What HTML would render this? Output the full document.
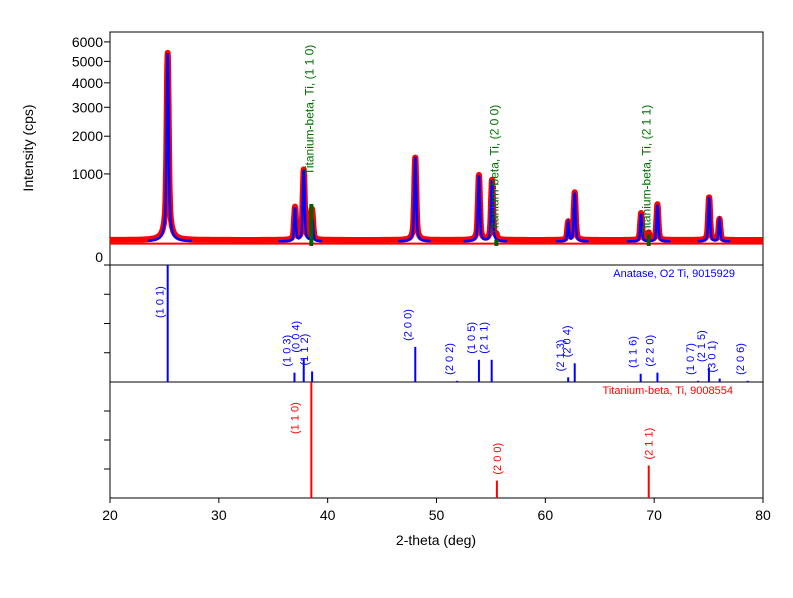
<!DOCTYPE html>
<html><head><meta charset="utf-8"><style>
body{margin:0;background:#fff;}
svg{font-family:"Liberation Sans",Arial,sans-serif;}
</style></head><body>
<svg id="chart" width="793" height="593" viewBox="0 0 793 593" xmlns="http://www.w3.org/2000/svg"></svg>
<script>
// ---- data ----
const anatasePos = [25.3, 37.0, 37.8, 38.6, 48.05, 53.9, 55.1, 62.1, 62.7, 68.8, 70.3, 75.05, 76.0];
const anataseInt = [5350, 330, 1020, 180, 1330, 900, 800, 150, 560, 250, 370, 480, 180];
const tiPos = [38.5, 55.5, 69.5];
const tiObsInt = [200, 30, 50];
const tiLabels = ["Titanium-beta, Ti, (1 1 0)", "Titanium-beta, Ti, (2 0 0)", "Titanium-beta, Ti, (2 1 1)"];
const background = 75;
const yTicks = [0, 1000, 2000, 3000, 4000, 5000, 6000];
const xTicks = [20, 30, 40, 50, 60, 70, 80];
const refAnatasePos = [25.3, 36.95, 37.8, 38.57, 48.05, 51.9, 53.9, 55.07, 62.1, 62.7, 68.76, 70.3, 74.03, 75.03, 76.02, 78.6];
const refAnataseInt = [100, 8, 20, 9, 30, 1, 19, 19, 4, 16, 7, 8, 1, 12, 3, 1];
const refAnataseLbl = ["(1 0 1)", "(1 0 3)", "(0 0 4)", "(1 1 2)", "(2 0 0)", "(2 0 2)", "(1 0 5)", "(2 1 1)", "(2 1 3)", "(2 0 4)", "(1 1 6)", "(2 2 0)", "(1 0 7)", "(2 1 5)", "(3 0 1)", "(2 0 6)"];
const refTiPos = [38.5, 55.55, 69.5];
const refTiInt = [100, 15, 28];
const refTiLbl = ["(1 1 0)", "(2 0 0)", "(2 1 1)"];

// ---- layout ----
const L = 110, R = 763, T1 = 32, B1 = 265, B2 = 382, B3 = 498;
const xs = v => L + (v - 20) / 60 * (R - L);
const ys = v => B1 - Math.sqrt(Math.max(v, 0)) * 2.88;
const svg = document.getElementById('chart');
const NS = 'http://www.w3.org/2000/svg';
function mk(tag, attrs, parent) {
  const e = document.createElementNS(NS, tag);
  for (const k in attrs) e.setAttribute(k, attrs[k]);
  (parent || svg).appendChild(e);
  return e;
}
function profile(x, pos, ints, w) {
  let s = 0;
  for (let i = 0; i < pos.length; i++) {
    const d = (x - pos[i]) / w;
    s += ints[i] * (0.6 * Math.exp(-0.693 * d * d) + 0.4 / (1 + d * d));
  }
  return s;
}

const frame = mk('rect', {x: L, y: T1, width: R - L, height: B3 - T1, fill: 'none', stroke: '#000', 'stroke-width': 1});


const d1 = mk('line', {x1: L, x2: R, y1: B1, y2: B1, stroke: '#000'});


const d2 = mk('line', {x1: L, x2: R, y1: B2, y2: B2, stroke: '#000'});



yTicks.forEach(t => {
  const y = ys(t);
  const tk = mk('line', {x1: L - 6, x2: L, y1: y, y2: y, stroke: '#000'});
  
  
  const tx = mk('text', {x: L - 7, y: t === 0 ? y - 3 : y + 5, 'text-anchor': 'end', 'font-size': 14});
  tx.textContent = t;
  
  
});
[[B1, B2], [B2, B3]].forEach(p => {
  for (let i = 1; i < 4; i++) {
    const y = p[0] + (p[1] - p[0]) * i / 4;
    const tk = mk('line', {x1: L - 6, x2: L, y1: y, y2: y, stroke: '#000'});
    
    
  }
});
const yt = mk('text', {x: 33, y: 148, 'text-anchor': 'middle', 'font-size': 14, transform: 'rotate(-90 33 148)'});
yt.textContent = 'Intensity (cps)';



xTicks.forEach(t => {
  const x = xs(t);
  const tk = mk('line', {x1: x, x2: x, y1: B3, y2: B3 + 5, stroke: '#000'});
  
  
  const tx = mk('text', {x: x, y: 520, 'text-anchor': 'middle', 'font-size': 14});
  tx.textContent = t;
  
  
});
const xt = mk('text', {x: 436, y: 545, 'text-anchor': 'middle', 'font-size': 14});
xt.textContent = '2-theta (deg)';



// observed (red)
let pts = [];
for (let x = 20; x <= 80.001; x += 0.02) {
  const v = background + profile(x, anatasePos, anataseInt, 0.09) + profile(x, tiPos, tiObsInt, 0.09);
  pts.push(xs(x).toFixed(1) + ',' + ys(v).toFixed(1));
}
const obs = mk('polyline', {points: pts.join(' '), fill: 'none', stroke: '#f00', 'stroke-width': 6, 'stroke-linejoin': 'round'});


const bg = mk('line', {x1: L, x2: R, y1: ys(background - 20), y2: ys(background - 20), stroke: '#f00', 'stroke-width': 2});



const segs = [[23.5, 27.5], [35.5, 39.5], [46.5, 49.5], [52.5, 56.5], [61, 64], [67.5, 71.5], [74, 77]];
segs.forEach(s => {
  let p = [];
  for (let x = s[0]; x <= s[1]; x += 0.02) {
    const v = background - 8 + profile(x, anatasePos, anataseInt, 0.08);
    p.push(xs(x).toFixed(1) + ',' + ys(v).toFixed(1));
  }
  const fit = mk('polyline', {points: p.join(' '), fill: 'none', stroke: '#00f', 'stroke-width': 2.5});
  
  
});

tiPos.forEach((p, i) => {
  const x = xs(p);
  const h = refTiInt[i] / 100 * 42;
  const b = mk('rect', {x: x - 2, y: 246 - h, width: 4, height: h, fill: '#006000'});
  
  
  const ty = [175, 235, 235][i];
  const t = mk('text', {x: x + 2, y: ty, 'font-size': 12, fill: '#007000', transform: `rotate(-90 ${x + 2} ${ty})`});
  t.textContent = tiLabels[i];
  
  
});

const an = mk('text', {x: 735, y: 277, 'text-anchor': 'end', 'font-size': 11, fill: '#00f'});
an.textContent = 'Anatase, O2 Ti, 9015929';


refAnatasePos.forEach((p, i) => {
  const x = xs(p);
  const h = Math.max(refAnataseInt[i], 1) / 100 * (B2 - B1);
  const ln = mk('line', {x1: x, x2: x, y1: B2, y2: B2 - h, stroke: '#00f', 'stroke-width': 2});
  
  
  const ly = i === 0 ? 318 : B2 - h - 6;
  const t = mk('text', {x: x - 4, y: ly, 'font-size': 11, fill: '#00f', transform: `rotate(-90 ${x - 4} ${ly})`});
  t.textContent = refAnataseLbl[i];
  
  
});

const tn = mk('text', {x: 733, y: 394, 'text-anchor': 'end', 'font-size': 11, fill: '#f00'});
tn.textContent = 'Titanium-beta, Ti, 9008554';


refTiPos.forEach((p, i) => {
  const x = xs(p);
  const h = refTiInt[i] / 100 * (B3 - B2);
  const ln = mk('line', {x1: x, x2: x, y1: B3, y2: B3 - h, stroke: '#f00', 'stroke-width': 2});
  
  
  const ly = i === 0 ? 434 : B3 - h - 6;
  const lx = i === 0 ? x - 13 : x + 4;
  const t = mk('text', {x: lx, y: ly, 'font-size': 11, fill: '#f00', transform: `rotate(-90 ${lx} ${ly})`});
  t.textContent = refTiLbl[i];
  
  
});
</script>
</body></html>
